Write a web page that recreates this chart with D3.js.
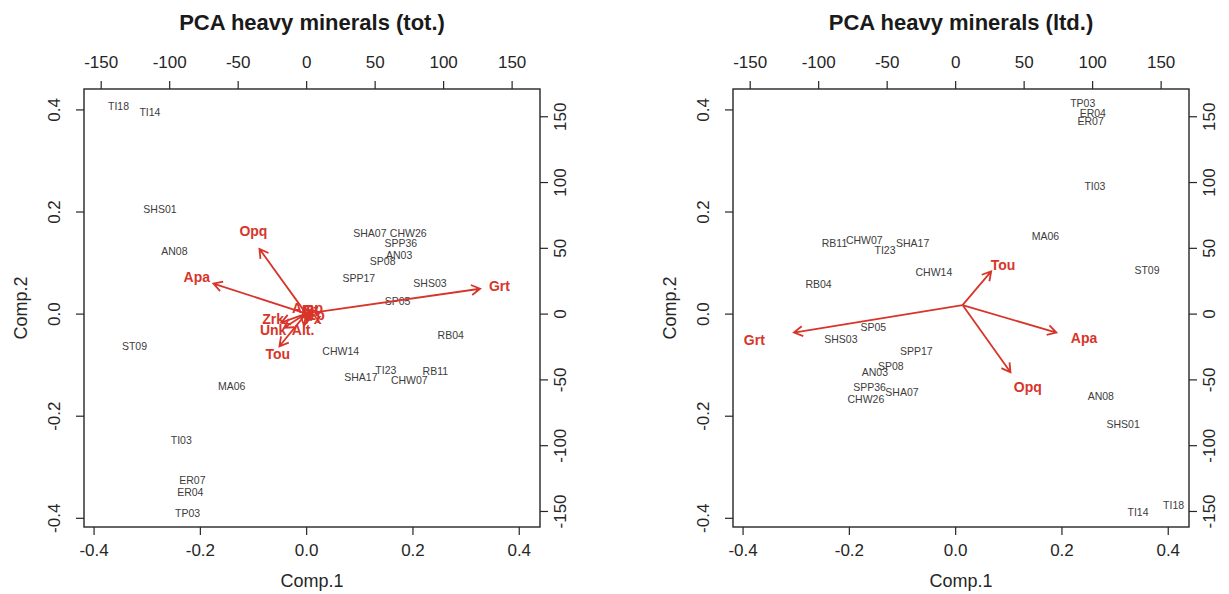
<!DOCTYPE html>
<meta charset="utf-8" />

<style>
  body {
    margin: 0;
    background-color: #fff;
  }
  svg text {
    font-family: "Liberation Sans", Arial, sans-serif;
  }
</style>

<!-- Load d3.js -->
<script src="https://d3js.org/d3.v7.min.js"></script>

<svg id="chart" width="1229" height="594"></svg>

<script>
  // ---- shared axis setup ----
  const lim = [-0.418, 0.44];
  const ratio = 388;
  const primaryTicks = [-0.4, -0.2, 0, 0.2, 0.4];
  const secondaryTicks = [-150, -100, -50, 0, 50, 100, 150];

  // ---- PCA heavy minerals (tot.) ----
  const totSamples = ['TI18', 'TI14', 'SHS01', 'AN08', 'ST09', 'MA06', 'TI03', 'ER07', 'ER04', 'TP03',
    'SHA07', 'CHW26', 'SPP36', 'AN03', 'SP08', 'SPP17', 'SHS03', 'SP05', 'RB04', 'CHW14',
    'TI23', 'SHA17', 'CHW07', 'RB11'];
  const totComp1 = [-0.353, -0.294, -0.275, -0.248, -0.323, -0.140, -0.235, -0.214, -0.218, -0.223,
    0.120, 0.192, 0.178, 0.175, 0.144, 0.099, 0.233, 0.172, 0.272, 0.065,
    0.150, 0.103, 0.194, 0.243];
  const totComp2 = [0.406, 0.394, 0.205, 0.122, -0.065, -0.142, -0.248, -0.326, -0.350, -0.391,
    0.158, 0.158, 0.137, 0.115, 0.103, 0.070, 0.059, 0.024, -0.042, -0.074,
    -0.111, -0.124, -0.131, -0.114];
  const totVars = ['Grt', 'Apa', 'Opq', 'Tou', 'Zrk', 'Unk', 'Alt.', 'Rt', 'Ep', 'Amp', 'Px'];
  const totTipX = [127, -67.7, -34.1, -19.5, -18.2, -16.1, -1.5, 4.4, 5.8, -1.5, 3.6];
  const totTipY = [18.9, 22.8, 49.2, -24.8, -6.8, -10.7, -9.1, 2.3, -1.5, 4.6, -4.6];
  const totLabX = [141.1, -79.8, -38.5, -20.7, -24.1, -24.1, -2.2, 3.5, 7, 1, 5];
  const totLabY = [21, 27.7, 62.5, -31, -3.8, -12.2, -12.9, 2.5, -1, 4, -4];
  const totOrigin = [0, 0];

  // ---- PCA heavy minerals (ltd.) ----
  const ltdSamples = ['TP03', 'ER04', 'ER07', 'TI03', 'MA06', 'ST09', 'RB11', 'CHW07', 'TI23', 'SHA17',
    'CHW14', 'RB04', 'SP05', 'SHS03', 'SPP17', 'SP08', 'AN03', 'SPP36', 'SHA07', 'CHW26',
    'AN08', 'SHS01', 'TI14', 'TI18'];
  const ltdComp1 = [0.240, 0.259, 0.255, 0.263, 0.170, 0.361, -0.227, -0.171, -0.132, -0.080,
    -0.040, -0.257, -0.154, -0.215, -0.073, -0.121, -0.151, -0.161, -0.100, -0.168,
    0.274, 0.316, 0.344, 0.411];
  const ltdComp2 = [0.412, 0.393, 0.377, 0.250, 0.152, 0.085, 0.137, 0.143, 0.124, 0.138,
    0.081, 0.057, -0.027, -0.051, -0.073, -0.103, -0.115, -0.144, -0.154, -0.167,
    -0.162, -0.217, -0.390, -0.376];
  const ltdVars = ['Grt', 'Tou', 'Apa', 'Opq'];
  const ltdTipX = [-117.7, 26.3, 73.9, 40.4];
  const ltdTipY = [-14.4, 32.1, -14.4, -44.6];
  const ltdLabX = [-146.6, 35, 94.1, 53];
  const ltdLabY = [-19.8, 36.6, -18.5, -56.1];
  const ltdOrigin = [5.4, 6.5];

  const svg = d3.select('#chart');
  const red = '#d8352a';
  const ink = '#262626';
  const fmt1 = d => d.toFixed(1);

  const panels = [
    {
      title: 'PCA heavy minerals (tot.)', left: 84, right: 540, top: 89, bottom: 527,
      samples: totSamples, c1: totComp1, c2: totComp2,
      vars: totVars, tipX: totTipX, tipY: totTipY, labX: totLabX, labY: totLabY, origin: totOrigin
    },
    {
      title: 'PCA heavy minerals (ltd.)', left: 733, right: 1189, top: 89, bottom: 527,
      samples: ltdSamples, c1: ltdComp1, c2: ltdComp2,
      vars: ltdVars, tipX: ltdTipX, tipY: ltdTipY, labX: ltdLabX, labY: ltdLabY, origin: ltdOrigin
    }
  ];

  panels.forEach(drawPanel);

  function styleAxis(sel) {
    sel.select('.domain').remove();
    sel.selectAll('line').attr('stroke', ink).attr('stroke-width', 1.2);
    sel.selectAll('text')
      .attr('fill', ink)
      .style('font-size', '17px');
  }

  function drawPanel(p) {
    const x = d3.scaleLinear().domain(lim).range([p.left, p.right]);
    const y = d3.scaleLinear().domain(lim).range([p.bottom, p.top]);
    const x2 = d3.scaleLinear().domain(lim.map(v => v * ratio)).range([p.left, p.right]);
    const y2 = d3.scaleLinear().domain(lim.map(v => v * ratio)).range([p.bottom, p.top]);
    const g = svg.append('g');

    // axes
    g.append('g')
      .attr('transform', `translate(0,${p.bottom})`)
      .call(d3.axisBottom(x).tickValues(primaryTicks).tickFormat(fmt1).tickSize(8).tickPadding(9))
      .call(styleAxis);

    g.append('g')
      .attr('transform', `translate(0,${p.top})`)
      .call(d3.axisTop(x2).tickValues(secondaryTicks).tickFormat(d => String(d)).tickSize(8).tickPadding(13))
      .call(styleAxis);

    g.append('g')
      .attr('transform', `translate(${p.left},0)`)
      .call(d3.axisLeft(y).tickValues(primaryTicks).tickFormat(fmt1).tickSize(8))
      .call(styleAxis)
      .selectAll('text')
      .attr('transform', 'rotate(-90)')
      .attr('x', 0).attr('y', -24).attr('dy', 0)
      .attr('text-anchor', 'middle');

    g.append('g')
      .attr('transform', `translate(${p.right},0)`)
      .call(d3.axisRight(y2).tickValues(secondaryTicks).tickFormat(d => String(d)).tickSize(8))
      .call(styleAxis)
      .selectAll('text')
      .attr('transform', 'rotate(-90)')
      .attr('x', 0).attr('y', 26).attr('dy', 0)
      .attr('text-anchor', 'middle');

    // box
    g.append('rect')
      .attr('x', p.left).attr('y', p.top)
      .attr('width', p.right - p.left).attr('height', p.bottom - p.top)
      .attr('fill', 'none')
      .attr('stroke', ink)
      .attr('stroke-width', 1.4);

    // titles
    const cx = (p.left + p.right) / 2;
    g.append('text')
      .attr('x', cx).attr('y', 30)
      .attr('text-anchor', 'middle')
      .style('font-size', '22px').style('font-weight', 'bold')
      .attr('fill', '#1a1a1a')
      .text(p.title);

    g.append('text')
      .attr('x', cx).attr('y', 587)
      .attr('text-anchor', 'middle')
      .style('font-size', '18px')
      .attr('fill', ink)
      .text('Comp.1');

    g.append('text')
      .attr('transform', `translate(${p.left - 57},${(p.top + p.bottom) / 2}) rotate(-90)`)
      .attr('text-anchor', 'middle')
      .style('font-size', '18px')
      .attr('fill', ink)
      .text('Comp.2');

    // sample labels
    g.append('g')
      .selectAll('text')
      .data(p.samples)
      .join('text')
      .attr('x', (d, i) => x(p.c1[i]))
      .attr('y', (d, i) => y(p.c2[i]))
      .attr('dy', '0.35em')
      .attr('text-anchor', 'middle')
      .style('font-size', '10.5px')
      .attr('fill', '#3c3c3c')
      .text(d => d);

    // loading arrows
    const ox = x2(p.origin[0]), oy = y2(p.origin[1]);
    const head = 10, ang = Math.PI / 6;
    g.append('g')
      .selectAll('path')
      .data(p.vars)
      .join('path')
      .attr('d', (d, i) => {
        const tx = x2(p.tipX[i]), ty = y2(p.tipY[i]);
        const a = Math.atan2(ty - oy, tx - ox);
        const h1 = [tx - head * Math.cos(a - ang), ty - head * Math.sin(a - ang)];
        const h2 = [tx - head * Math.cos(a + ang), ty - head * Math.sin(a + ang)];
        return `M${ox},${oy}L${tx},${ty}M${h1[0]},${h1[1]}L${tx},${ty}L${h2[0]},${h2[1]}`;
      })
      .attr('fill', 'none')
      .attr('stroke', red)
      .attr('stroke-width', 1.8);

    g.append('g')
      .selectAll('text')
      .data(p.vars)
      .join('text')
      .attr('x', (d, i) => x2(p.labX[i]))
      .attr('y', (d, i) => y2(p.labY[i]))
      .attr('dy', '0.35em')
      .attr('text-anchor', 'middle')
      .style('font-size', '14px').style('font-weight', 'bold')
      .attr('fill', red)
      .text(d => d);
  }
</script>
